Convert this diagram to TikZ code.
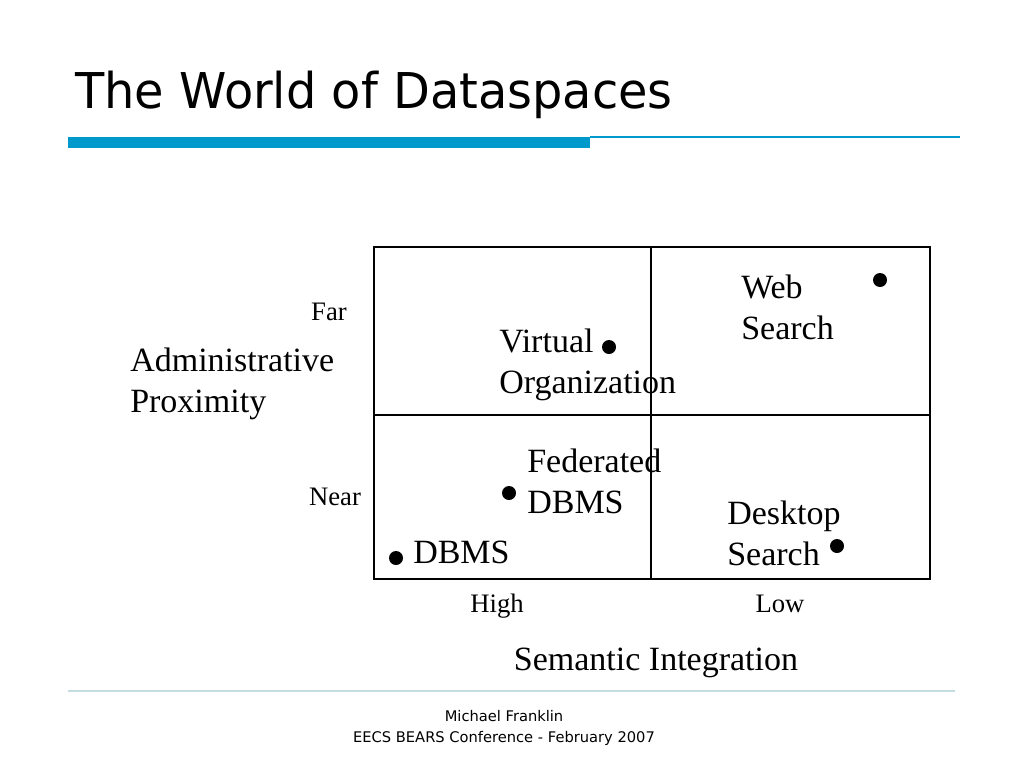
\documentclass[tikz,border=0pt]{standalone}
\usepackage{fontspec}
\setmainfont{Liberation Serif}
\newfontfamily\slidefont{DejaVu Sans}
\usetikzlibrary{positioning}
\definecolor{barblue}{HTML}{0099CC}
\definecolor{rulegrey}{HTML}{C5DCE0}
\tikzset{
  quad/.style={draw=black,line width=0.8pt},
  dot/.style={circle,fill=black,inner sep=0pt,minimum size=10.5pt},
  lbl/.style={inner sep=0pt,align=left,anchor=base west,
    font=\fontsize{25.5}{30.5}\selectfont},
  tick/.style={inner sep=0pt,anchor=base,font=\fontsize{20}{24}\selectfont},
  foot/.style={inner sep=0pt,anchor=base,font=\slidefont\fontsize{11}{15.5}\selectfont}
}

\begin{document}
\begin{tikzpicture}[x=0.75pt,y=-0.75pt]
  \useasboundingbox (0,0) rectangle (1024,768);
  % title and rules
  \node[inner sep=0pt,anchor=base west,xscale=0.97,transform shape,
    font=\slidefont\fontsize{37}{40}\selectfont]
    (title) at (75,108) {The World of Dataspaces};
  \fill[barblue] (68,137) rectangle (590,148);
  \draw[barblue,line width=0.9pt] (590,137) -- (960,137);
  \draw[rulegrey,line width=0.9pt] (68,691) -- (955,691);
  % quadrants
  \draw[quad] (374,247) rectangle (930,579);
  \draw[quad] (651,247) -- (651,579);
  \draw[quad] (374,415) -- (930,415);
  % points
  \node[dot] (web)  at (880,280) {};
  \node[dot] (vo)   at (609,347) {};
  \node[dot] (fed)  at (509,493) {};
  \node[dot] (dbms) at (396,558) {};
  \node[dot] (desk) at (837,546) {};
  % labels, anchored at the baseline of the last line
  \node[lbl] (webl)  at (741,339) {Web\\Search};
  \node[lbl] (vol)   at (499,393) {Virtual\\Organization};
  \node[lbl] (fedl)  at (527,513) {Federated\\DBMS};
  \node[lbl] (deskl) at (727,565) {Desktop\\Search};
  \node[lbl] (dbmsl) at (413,563) {DBMS};
  % axes
  \node[tick] (far)  at (329,320) {Far};
  \node[tick] (near) at (335,505) {Near};
  \node[tick] (high) at (497,612) {High};
  \node[tick] (low)  at (780,612) {Low};
  \node[lbl] (yaxis) at (130,412) {Administrative\\Proximity};
  \node[lbl,anchor=base] (xaxis) at (656,670) {Semantic Integration};
  % footer
  \node[foot] (author) at (504,721) {Michael Franklin};
  \node[foot] (event)  at (504,742) {EECS BEARS Conference - February 2007};
\end{tikzpicture}
\end{document}
